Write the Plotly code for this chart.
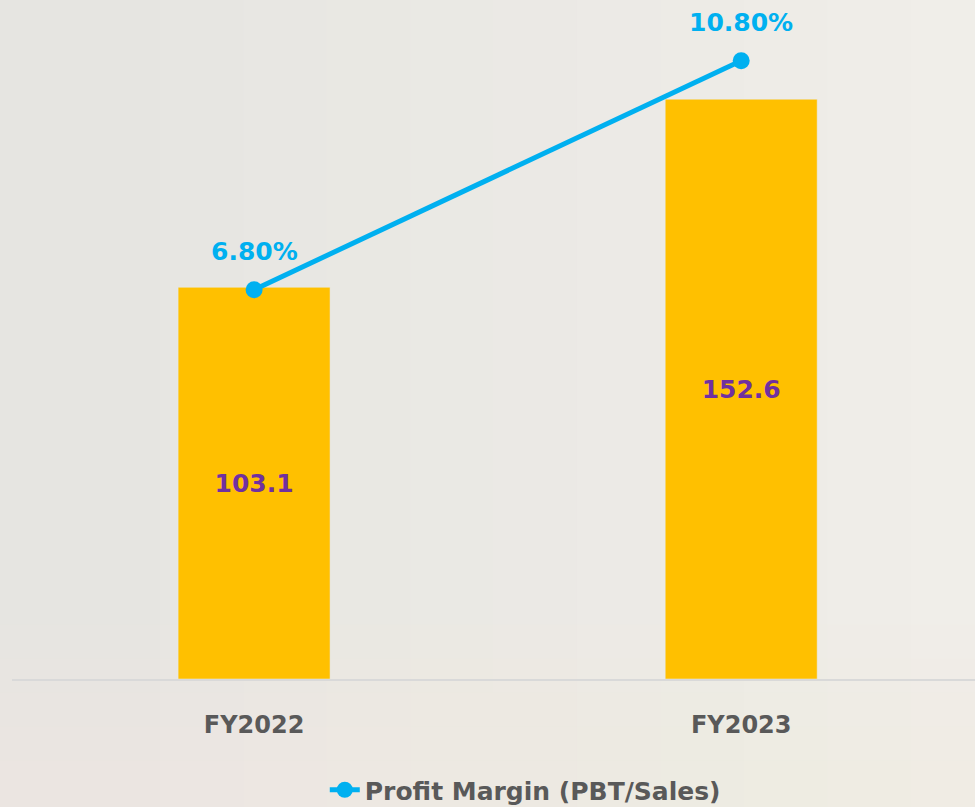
import plotly.graph_objects as go

categories = ["FY2022", "FY2023"]
pbt_values = [103.1, 152.6]
margin_pct = [6.8, 10.8]
margin_labels = ["6.80%", "10.80%"]
line_name = "Profit Margin (PBT/Sales)"

FONT = "DejaVu Sans"
BAR_C = "#ffc000"
LINE_C = "#00b0f0"
TXT_C = "#595959"
VAL_C = "#7030a0"

fig = go.Figure()
fig.add_trace(go.Bar(
    x=categories, y=pbt_values, width=0.312, marker_color=BAR_C,
    text=[f"{v:.1f}" for v in pbt_values], textposition="inside",
    insidetextanchor="middle",
    textfont=dict(family=FONT, size=25, color=VAL_C, weight="bold"),
    showlegend=False, hoverinfo="skip"))
fig.add_trace(go.Scatter(
    x=categories, y=margin_pct, yaxis="y2", mode="lines+markers",
    name=line_name, line=dict(color=LINE_C, width=5),
    marker=dict(color=LINE_C, size=17)))

for c, v, t in zip(categories, margin_pct, margin_labels):
    fig.add_annotation(x=c, y=v, yref="y2", text=t, showarrow=False,
                       yshift=38, font=dict(family=FONT, size=25, color=LINE_C, weight="bold"))

# background gradient (decorative)
shapes = []
n = 12
for i in range(n):
    f = i / (n - 1)
    r = int(0xe6 + (0xf0 - 0xe6) * f)
    g = int(0xe5 + (0xee - 0xe5) * f)
    b = int(0xe1 + (0xe9 - 0xe1) * f)
    shapes.append(dict(type="rect", xref="paper", yref="paper", layer="below",
                       x0=-0.02 + i / n * 1.04, x1=-0.02 + (i + 1) / n * 1.04 + 0.002,
                       y0=-0.2, y1=1.01, line_width=0,
                       fillcolor=f"rgb({r},{g},{b})"))
for j in range(5):
    shapes.append(dict(type="rect", xref="paper", yref="paper", layer="below",
                       x0=-0.02, x1=1.02, y0=-0.2, y1=0.08 - j * 0.05, line_width=0,
                       fillcolor="rgba(245,238,222,0.10)"))

fig.update_layout(
    width=975, height=807,
    margin=dict(l=12, r=0, t=0, b=128, autoexpand=False),
    paper_bgcolor="#eae8e3", plot_bgcolor="rgba(0,0,0,0)",
    shapes=shapes,
    xaxis=dict(range=[-0.497, 1.48], showgrid=False, showline=True,
               linecolor="#d9d9d9", linewidth=2, ticks="outside", ticklen=23,
               tickcolor="rgba(0,0,0,0)", automargin=False,
               tickfont=dict(family=FONT, size=24, color=TXT_C, weight="bold")),
    yaxis=dict(range=[0, 178.7], visible=False, showgrid=False),
    yaxis2=dict(range=[0, 11.86], overlaying="y", visible=False, showgrid=False),
    legend=dict(orientation="h", x=0.533, xanchor="center", y=-0.1635, yanchor="middle",
                font=dict(family=FONT, size=25, color=TXT_C, weight="bold"),
                bgcolor="rgba(0,0,0,0)"),
)
fig.write_html("out.html", config={"displayModeBar": False},
               post_script="document.body.style.margin='0';document.body.style.overflow='hidden';")
